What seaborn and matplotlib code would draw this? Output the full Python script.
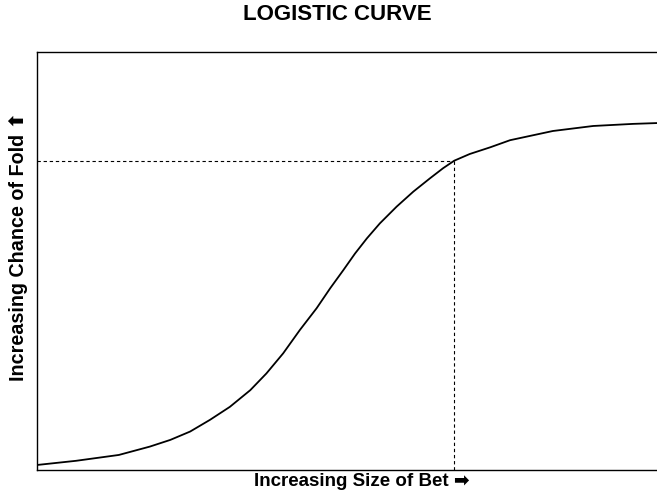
import numpy as np
import pandas as pd
import matplotlib
matplotlib.use("Agg")
import matplotlib.pyplot as plt
import seaborn as sns

# values (both axes on a 0-100 scale)
bet_size = [0, 6.3, 13.2, 18.2, 21.5, 24.7, 27.9, 31.1, 34.4, 37.0, 39.7,
            42.4, 45.1, 47.3, 49.4, 51.3, 53.2, 55.3, 58.0, 60.7, 63.4,
            65.5, 67.3, 69.8, 73.1, 76.3, 83.2, 89.7, 96.1, 100]
fold_chance = [1.2, 2.2, 3.6, 5.6, 7.2, 9.2, 12.0, 15.1, 19.1, 23.1, 27.9,
               33.5, 38.7, 43.5, 47.8, 51.8, 55.4, 59.0, 63.0, 66.6, 69.8,
               72.2, 74.0, 75.6, 77.2, 78.9, 81.1, 82.3, 82.8, 83.0]
ref_bet = 67.3
ref_fold = 74.0

df = pd.DataFrame({'bet': bet_size, 'fold': fold_chance})

sns.set_style("white")
plt.rcParams['font.family'] = ['Liberation Sans', 'DejaVu Sans']
plt.rcParams['text.color'] = 'black'
plt.rcParams['axes.labelcolor'] = 'black'

fig = plt.figure(figsize=(6.57, 4.99), dpi=100)
ax = fig.add_axes([37 / 657, 29 / 499, 1 - 37 / 657, 418 / 499])

sns.lineplot(data=df, x='bet', y='fold', ax=ax, color='black',
             linewidth=1.3, sort=True, solid_joinstyle='round')

# dashed guide lines to the marked point
ax.plot([0, ref_bet], [ref_fold, ref_fold], color='black', linewidth=0.8,
        linestyle=(0, (3, 2.5)))
ax.plot([ref_bet, ref_bet], [0, ref_fold], color='black', linewidth=0.8,
        linestyle=(0, (3, 2.5)))

ax.set_xlim(0, 100)
ax.set_ylim(0, 100)
ax.set_xticks([])
ax.set_yticks([])
for side in ['left', 'top', 'bottom']:
    ax.spines[side].set_color('black')
    ax.spines[side].set_linewidth(1.0)
ax.spines['right'].set_visible(False)

ax.set_xlabel('Increasing Size of Bet \u27a1', fontsize=13.5, fontweight='bold')
ax.set_ylabel('Increasing Chance of Fold \u2b06', fontsize=14.2, fontweight='bold')
ax.xaxis.set_label_coords((362 - 37) / 620, -(481 - 470) / 418)
ax.yaxis.set_label_coords(-(37 - 18) / 620, (470 - 246) / 418)
ax.xaxis.label.set_va('center')
ax.yaxis.label.set_va('center')

fig.text(337 / 657, 1 - 15 / 499, 'LOGISTIC CURVE', ha='center', va='center',
         fontsize=16, fontweight='bold')

fig.savefig('out.png', dpi=100)
